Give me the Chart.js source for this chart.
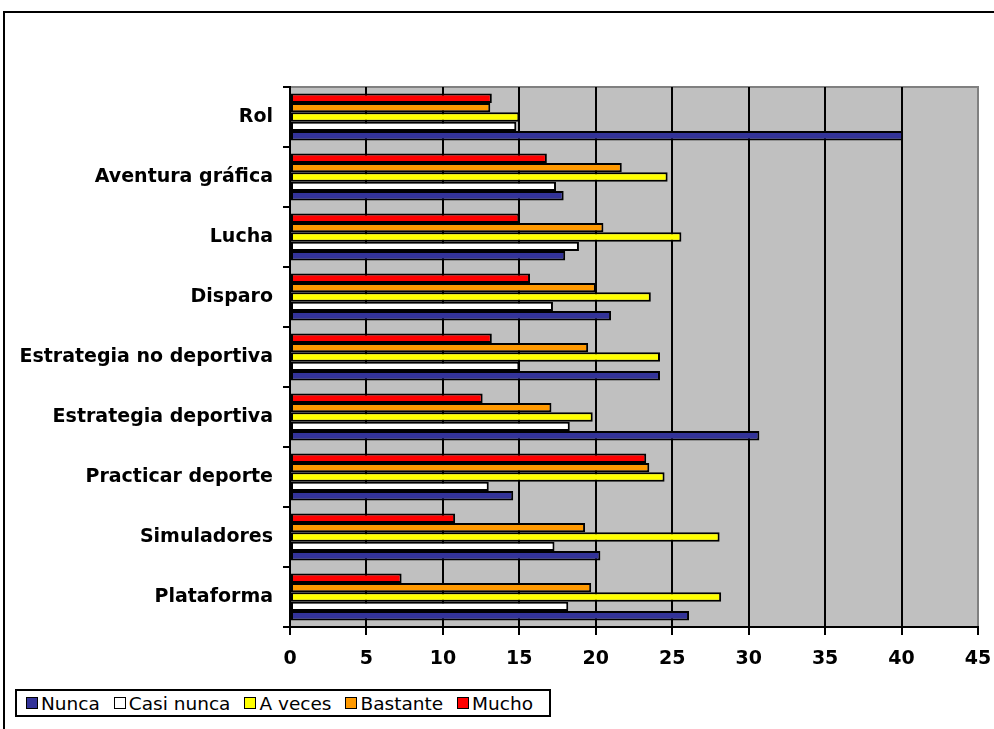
<!DOCTYPE html>
<html>
<head>
<meta charset="utf-8">
<script src="https://cdn.jsdelivr.net/npm/chart.js@4/dist/chart.umd.min.js"></script>
<style>
  html, body { margin: 0; padding: 0; background: #fff; }
  #wrap { position: relative; width: 994px; height: 729px; overflow: hidden; background: #fff; }
  #frame { position: absolute; left: 3px; top: 11px; width: 1100px; height: 900px;
           border-left: 2px solid #000; border-top: 2px solid #000; box-sizing: border-box; }
  #c { position: absolute; left: 0; top: 0; }
  #legend { position: absolute; left: 15px; top: 689px; width: 536px; height: 28px; box-sizing: border-box;
            border: 2px solid #000; background: #fff; display: flex; align-items: center;
            font-family: "DejaVu Sans", sans-serif; font-size: 18.5px; color: #000; padding-left: 9px; }
  .item { display: flex; align-items: center; margin-right: 14px; white-space: nowrap; }
  .box { width: 10px; height: 10px; border: 1px solid #000; margin-right: 3px; }
</style>
</head>
<body>
<div id="wrap">
  <div id="frame"></div>
  <canvas id="c" width="994" height="729"></canvas>
  <div id="legend"></div>
</div>
<script>
// Categories listed top to bottom as they appear in the chart
const categories = ['Rol', 'Aventura gráfica', 'Lucha', 'Disparo', 'Estrategia no deportiva',
                    'Estrategia deportiva', 'Practicar deporte', 'Simuladores', 'Plataforma'];
const nunca     = [40.1, 17.9, 18.0, 21.0, 24.2, 30.7, 14.6, 20.3, 26.1];
const casiNunca = [14.8, 17.4, 18.9, 17.2, 15.0, 18.3, 13.0, 17.3, 18.2];
const aVeces    = [15.0, 24.7, 25.6, 23.6, 24.2, 19.8, 24.5, 28.1, 28.2];
const bastante  = [13.1, 21.7, 20.5, 20.0, 19.5, 17.1, 23.5, 19.3, 19.7];
const mucho     = [13.2, 16.8, 15.0, 15.7, 13.2, 12.6, 23.3, 10.8, 7.3];
const seriesNames  = ['Nunca', 'Casi nunca', 'A veces', 'Bastante', 'Mucho'];
const seriesColors = ['#333399', '#FFFFFF', '#FFFF00', '#FF9900', '#FF0000'];
const seriesValues = [nunca, casiNunca, aVeces, bastante, mucho];
const xTickValues = [0, 5, 10, 15, 20, 25, 30, 35, 40, 45];

// Within each group the top bar is "Mucho" and the bottom one "Nunca"
const order = [4, 3, 2, 1, 0];
const datasets = order.map(i => ({
  label: seriesNames[i],
  data: seriesValues[i],
  backgroundColor: seriesColors[i],
  borderColor: '#000',
  borderWidth: 2,
  borderSkipped: false,
  categoryPercentage: 0.78,
  barPercentage: 1.0
}));

const plotBg = {
  id: 'plotBg',
  beforeDraw(chart) {
    const { ctx, chartArea: a } = chart;
    ctx.save();
    ctx.fillStyle = '#C0C0C0';
    ctx.fillRect(a.left, a.top, a.right - a.left, a.bottom - a.top);
    ctx.strokeStyle = '#808080';
    ctx.lineWidth = 2;
    ctx.beginPath();
    ctx.moveTo(a.left, a.top);
    ctx.lineTo(a.right + 1, a.top);
    ctx.stroke();
    ctx.restore();
  }
};

const font = { family: 'DejaVu Sans', size: 19, weight: 'bold' };

new Chart(document.getElementById('c'), {
  type: 'bar',
  data: { labels: categories, datasets },
  options: {
    indexAxis: 'y',
    responsive: false,
    animation: false,
    layout: { padding: { left: 10, top: 87, right: 16, bottom: 52 } },
    plugins: { legend: { display: false }, tooltip: { enabled: false } },
    scales: {
      x: {
        type: 'linear', min: 0, max: 45, position: 'bottom',
        afterBuildTicks: s => { s.ticks = xTickValues.map(v => ({ value: v })); },
        ticks: { color: '#000', font, padding: 13, maxRotation: 0 },
        grid: {
          color: c => (c.tick && c.tick.value === 45) ? '#808080' : '#000',
          lineWidth: 2, tickLength: 8, tickColor: '#000', tickWidth: 2
        },
        border: { color: '#000', width: 2 },
        afterFit: s => { s.height = 50; s.paddingLeft = 0; s.paddingRight = 0; }
      },
      y: {
        type: 'category', offset: true,
        ticks: { color: '#000', font, padding: 10 },
        grid: { offset: true, drawOnChartArea: false, color: '#000', lineWidth: 2, tickLength: 7 },
        border: { color: '#000', width: 2 },
        afterFit: s => { s.width = 280; s.paddingTop = 0; s.paddingBottom = 0; }
      }
    }
  },
  plugins: [plotBg]
});

// Legend (HTML text), built from the series arrays
const legend = document.getElementById('legend');
seriesNames.forEach((name, i) => {
  const item = document.createElement('div');
  item.className = 'item';
  const box = document.createElement('span');
  box.className = 'box';
  box.style.background = seriesColors[i];
  const txt = document.createElement('span');
  txt.textContent = name;
  item.appendChild(box);
  item.appendChild(txt);
  legend.appendChild(item);
});
</script>
</body>
</html>
